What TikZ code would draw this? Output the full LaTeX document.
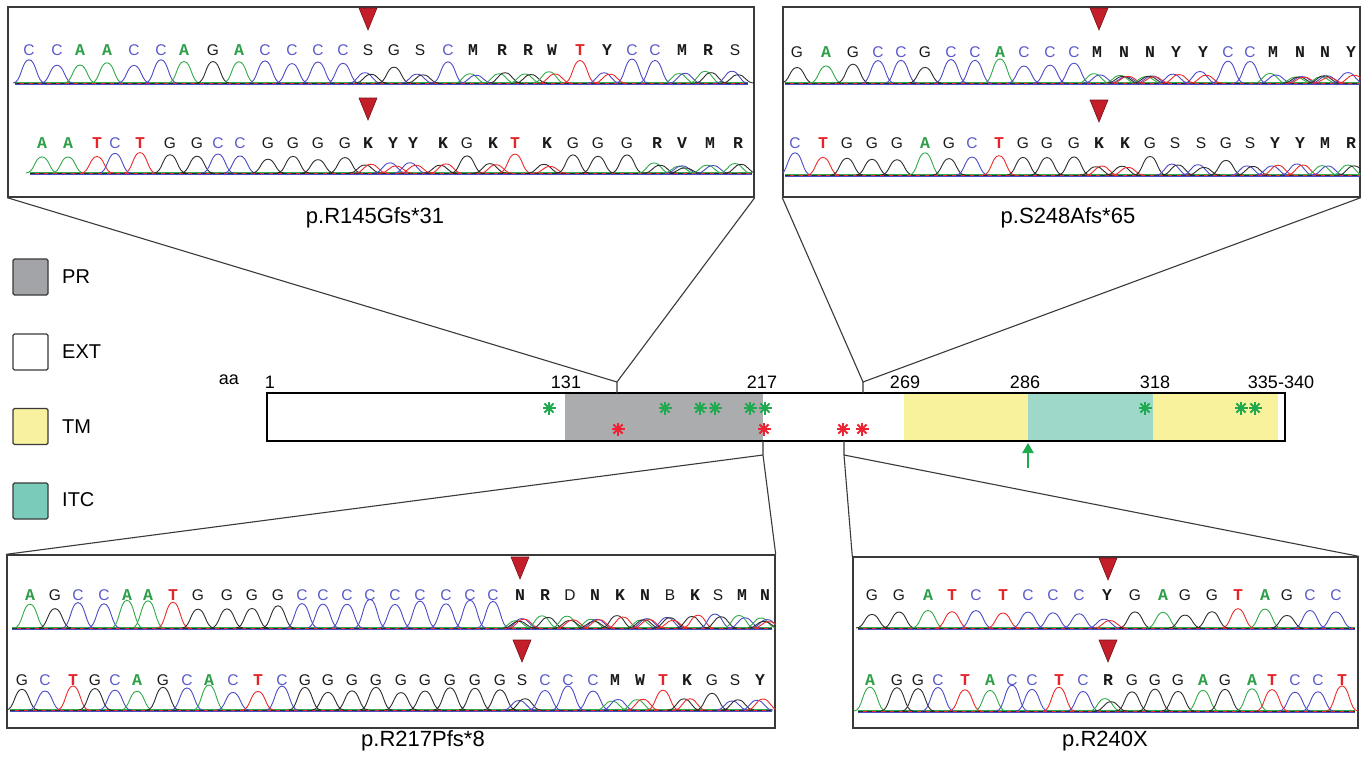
\documentclass[tikz,border=0pt]{standalone}
\usepackage{fontspec}
\setmainfont{Liberation Sans}
\newfontfamily\monof{Liberation Mono}
\usetikzlibrary{arrows.meta}
\definecolor{cA}{HTML}{33AA4A}
\definecolor{cC}{HTML}{4C4CC8}
\definecolor{cG}{HTML}{2E2E2E}
\definecolor{cT}{HTML}{EE2B2B}
\definecolor{lA}{HTML}{2E9E48}
\definecolor{lC}{HTML}{5A5ACB}
\definecolor{lG}{HTML}{1A1A1A}
\definecolor{lT}{HTML}{E5252A}
\definecolor{prgray}{HTML}{ABACAD}
\definecolor{tmyel}{HTML}{F8F29C}
\definecolor{itcteal}{HTML}{9ED8C9}
\definecolor{lgpr}{HTML}{A2A4A7}
\definecolor{lgtm}{HTML}{F7F1A0}
\definecolor{lgitc}{HTML}{7ACBB9}
\definecolor{stgreen}{HTML}{1FAA4F}
\definecolor{stred}{HTML}{EE2233}
\definecolor{trired}{HTML}{C41E2A}
\definecolor{edge}{HTML}{3A3A3A}

\tikzset{
  trace/.style={line width=0.9pt, line join=round},
  ltr/.style={inner sep=0pt, anchor=center},
  panel/.style={draw=edge, line width=1.4pt, inner sep=0pt, fill=white},
  conn/.style={draw=edge, line width=1.1pt},
  lab/.style={inner sep=0pt, font=\fontsize{22}{24}\selectfont},
  num/.style={inner sep=0pt, font=\fontsize{18}{20}\selectfont},
  lgbox/.style={draw=edge, line width=1.3pt, rounded corners=1.5pt, minimum width=35pt, minimum height=36pt, inner sep=0pt},
  lgtxt/.style={anchor=west, inner sep=0pt, font=\fontsize{20}{22}\selectfont},
}

\newcommand\lsans{\fontsize{15.5}{15.5}\selectfont}
\newcommand\lmono{\fontsize{16.5}{16.5}\selectfont\monof\bfseries}
\def\hs{20}
% peak: colour, x, base, relative height
\newcommand\pk[4]{%
  \pgfmathsetmacro\hr{#4*\hs*(0.8+0.35*rnd)}%
  \draw[trace,#1] ({#2-16},#3) .. controls ({#2-7.5},#3) and ({#2-7.5},{#3-\hr}) .. ({#2},{#3-\hr}) .. controls ({#2+7.5},{#3-\hr}) and ({#2+7.5},#3) .. ({#2+16},#3);}
\newcommand\putl[5]{\node[ltr,text=#3,font=#4] (n#1-#2) at (#1,#2) {#5};}
\newcommand\bzA[3]{\putl{#1}{#2}{lA}{\lmono}{A}\pk{cA}{#1}{#3}{1}}
\newcommand\bzC[3]{\putl{#1}{#2}{lC}{\lsans}{C}\pk{cC}{#1}{#3}{1}}
\newcommand\bzG[3]{\putl{#1}{#2}{lG}{\lsans}{G}\pk{cG}{#1}{#3}{0.9}}
\newcommand\bzT[3]{\putl{#1}{#2}{lT}{\lmono}{T}\pk{cT}{#1}{#3}{1}}
\newcommand\bzS[3]{\putl{#1}{#2}{lG}{\lsans}{S}\pk{cC}{#1-3}{#3}{0.5}\pk{cG}{#1+3}{#3}{0.45}}
\newcommand\bzK[3]{\putl{#1}{#2}{lG}{\lmono}{K}\pk{cG}{#1-3}{#3}{0.5}\pk{cT}{#1+3}{#3}{0.45}}
\newcommand\bzY[3]{\putl{#1}{#2}{lG}{\lmono}{Y}\pk{cC}{#1-3}{#3}{0.5}\pk{cT}{#1+3}{#3}{0.45}}
\newcommand\bzM[3]{\putl{#1}{#2}{lG}{\lmono}{M}\pk{cA}{#1-3}{#3}{0.5}\pk{cC}{#1+3}{#3}{0.45}}
\newcommand\bzR[3]{\putl{#1}{#2}{lG}{\lmono}{R}\pk{cA}{#1-3}{#3}{0.5}\pk{cG}{#1+3}{#3}{0.45}}
\newcommand\bzW[3]{\putl{#1}{#2}{lG}{\lmono}{W}\pk{cA}{#1-3}{#3}{0.5}\pk{cT}{#1+3}{#3}{0.45}}
\newcommand\bzN[3]{\putl{#1}{#2}{lG}{\lmono}{N}\pk{cA}{#1-4}{#3}{0.35}\pk{cC}{#1+2}{#3}{0.35}\pk{cG}{#1-1}{#3}{0.3}\pk{cT}{#1+4}{#3}{0.3}}
\newcommand\bzB[3]{\putl{#1}{#2}{lG}{\lsans}{B}\pk{cC}{#1-3}{#3}{0.4}\pk{cG}{#1}{#3}{0.35}\pk{cT}{#1+3}{#3}{0.35}}
\newcommand\bzD[3]{\putl{#1}{#2}{lG}{\lsans}{D}\pk{cA}{#1-3}{#3}{0.4}\pk{cG}{#1}{#3}{0.35}\pk{cT}{#1+3}{#3}{0.35}}
\newcommand\bzV[3]{\putl{#1}{#2}{lG}{\lmono}{V}\pk{cA}{#1-3}{#3}{0.4}\pk{cC}{#1}{#3}{0.35}\pk{cG}{#1+3}{#3}{0.35}}
% sequence row: list, letter y, baseline y, height scale
\newcommand\sq[4]{\def\hs{#4}\foreach \xx/\LL in {#1}{\csname bz\LL\endcsname{\xx}{#2}{#3}}}
% baselines: x1, x2, base
\newcommand\bl[3]{%
  \draw[trace,cT] (#1,#3) -- (#2,#3);
  \draw[trace,cA] (#1,{#3-0.8}) -- (#2,{#3-0.8});
  \draw[trace,cG,dash pattern=on 5pt off 4pt] (#1,{#3+0.4}) -- (#2,{#3+0.4});
  \draw[trace,cC] (#1,{#3+1}) -- (#2,{#3+1});}
\newcommand\tri[2]{\filldraw[fill=trired,draw=trired!60!black,line width=0.6pt] ({#1-9},#2) -- ({#1+9},#2) -- (#1,{#2+22}) -- cycle;}
\newcommand\astr[3]{\foreach \a in {0,45,90,135}{\draw[#1,line width=1.9pt] ({#2+6.5*cos(\a)},{#3+6.5*sin(\a)}) -- ({#2-6.5*cos(\a)},{#3-6.5*sin(\a)});}}

\begin{document}
\begin{tikzpicture}[x=1pt,y=-1pt]
\pgfmathsetseed{7}
\useasboundingbox (0,0) rectangle (1366,758);
\fill[white] (0,0) rectangle (1366,758);

% ---------- panels ----------
\node[panel, minimum width=746pt, minimum height=190pt] (p1) at (381,102) {};
\node[panel, minimum width=577pt, minimum height=190pt] (p2) at (1071.5,102) {};
\node[panel, minimum width=768pt, minimum height=173pt] (p3) at (391,641.5) {};
\node[panel, minimum width=505pt, minimum height=171pt] (p4) at (1105.5,642.5) {};

% ---------- panel 1 ----------
\begin{scope}
\clip (p1.south west) rectangle (p1.north east);
\bl{15}{748}{83}
\sq{29/C,57/C,80/A,107/A,134/C,161/C,184/A,213/G,239/A,265/C,292/C,318/C,343/C,368/S,394/G,420/S,448/C,473/M,502/R,528/R,552/W,580/T,607/Y,632/C,655/C,682/M,708/R,735/S}{50}{83}{21}
\bl{30}{752}{173}
\sq{42/A,68/A,97/T,115/C,140/T,170/G,197/G,218/C,240/C,268/G,293/G,318/G,345/G,368/K,393/Y,413/Y,443/K,467/G,493/K,515/T,547/K,573/G,598/G,627/G,657/R,682/V,710/M,738/R}{143}{173}{18}
\tri{368}{8}
\tri{368}{98}
\end{scope}

% ---------- panel 2 ----------
\begin{scope}
\clip (p2.south west) rectangle (p2.north east);
\bl{785}{1360}{83}
\sq{797/G,826/A,853/G,878/C,901/C,925/G,951/C,975/C,1000/A,1024/C,1050/C,1074/C,1097/M,1124/N,1150/N,1176/Y,1203/Y,1228/C,1250/C,1273/M,1300/N,1325/N,1351/Y}{52}{83}{21}
\bl{785}{1360}{175}
\sq{795/C,823/T,847/G,872/G,897/G,925/A,949/G,972/C,999/T,1023/G,1047/G,1074/G,1099/K,1125/K,1150/G,1175/S,1201/S,1226/G,1250/S,1275/Y,1300/Y,1325/M,1351/R}{143}{175}{20}
\tri{1099}{8}
\tri{1099}{100}
\end{scope}

% ---------- panel 3 ----------
\begin{scope}
\clip (p3.south west) rectangle (p3.north east);
\bl{12}{772}{628}
\sq{30/A,55/G,78/C,104/C,127/A,148/A,173/T,198/G,227/G,252/G,278/G,302/C,323/C,347/C,370/C,395/C,420/C,446/C,470/C,493/C,520/N,545/R,570/D,595/N,620/K,645/N,670/B,695/K,718/S,742/M,765/N}{595}{628}{26}
\bl{10}{772}{710}
\sq{22/G,45/C,73/T,95/G,115/C,137/A,163/G,187/C,209/A,233/C,258/T,282/C,305/G,328/G,352/G,376/G,401/G,425/G,450/G,475/G,500/G,522/S,545/C,568/C,593/C,615/M,640/W,663/T,687/K,712/G,735/S,760/Y}{680}{710}{22}
\tri{520}{557}
\tri{522}{640}
\end{scope}

% ---------- panel 4 ----------
\begin{scope}
\clip (p4.south west) rectangle (p4.north east);
\bl{858}{1355}{628}
\sq{872/G,899/G,928/A,952/T,976/C,1003/T,1028/C,1053/C,1079/C,1107/Y,1135/G,1163/A,1185/G,1212/G,1238/T,1265/A,1287/G,1310/C,1336/C}{595}{628}{17}
\bl{858}{1355}{711}
\sq{870/A,897/G,918/G,938/C,965/T,990/A,1012/C,1032/C,1059/T,1083/C,1108/R,1132/G,1155/G,1178/G,1203/A,1225/G,1252/A,1272/T,1295/C,1318/C,1342/T}{680}{711}{23}
\tri{1108}{558}
\tri{1108}{640}
\end{scope}

% ---------- labels ----------
\node[lab] (l1) at (375,218) {p.R145Gfs*31};
\node[lab] (l2) at (1068,218) {p.S248Afs*65};
\node[lab] (l3) at (423,741) {p.R217Pfs*8};
\node[lab] (l4) at (1105,741) {p.R240X};

% ---------- legend ----------
\node[lgbox, fill=lgpr] (kPR) at (30.5,277) {};
\node[lgtxt] (tPR) at (62,277) {PR};
\node[lgbox, fill=white] (kEXT) at (30.5,352) {};
\node[lgtxt] (tEXT) at (62,352) {EXT};
\node[lgbox, fill=lgtm] (kTM) at (30.5,426.5) {};
\node[lgtxt] (tTM) at (62,427) {TM};
\node[lgbox, fill=lgitc] (kITC) at (30.5,501) {};
\node[lgtxt] (tITC) at (62,500) {ITC};

% ---------- protein bar ----------
\fill[prgray] (565,393) rectangle (763,441);
\fill[tmyel] (904,393) rectangle (1028,441);
\fill[itcteal] (1028,393) rectangle (1153,441);
\fill[tmyel] (1153,393) rectangle (1278,441);
\node[draw=black, line width=2.4pt, minimum width=1018pt, minimum height=48pt, inner sep=0pt] (bar) at (776,417) {};

\node[num] (aa) at (229,380) {aa};
\node[num] (m1) at (270,382) {1};
\node[num] (m131) at (566,382) {131};
\node[num] (m217) at (762,382) {217};
\node[num] (m269) at (905,382) {269};
\node[num] (m286) at (1025,382) {286};
\node[num] (m318) at (1155,382) {318};
\node[num] (m335) at (1281,382) {335-340};

% asterisks
\foreach \sx in {549,665,700,715,750,765,1145,1241,1255}{\astr{stgreen}{\sx}{408}}
\foreach \sx in {618,764,843,862}{\astr{stred}{\sx}{429}}

% green arrow
\coordinate (ga) at (1028,468);
\coordinate (gb) at (1028,443);
\draw[stgreen, line width=2.8pt, -{Triangle[length=10pt,width=11pt]}] (ga) -- (gb);

% ---------- connectors ----------
\coordinate (s1) at (617,382);
\coordinate (s1b) at (617,393);
\coordinate (s2) at (863,382);
\coordinate (s2b) at (863,393);
\coordinate (s3) at (763,455);
\coordinate (s3b) at (763,441);
\coordinate (s4) at (844,455);
\coordinate (s4b) at (844,441);
\draw[conn] (s1b) -- (s1) -- (p1.south east);
\draw[conn] (s1) -- (p1.south west);
\draw[conn] (s2b) -- (s2) -- (p2.south west);
\draw[conn] (s2) -- (p2.south east);
\draw[conn] (s3b) -- (s3) -- (p3.north east);
\draw[conn] (s3) -- (p3.north west);
\draw[conn] (s4b) -- (s4) -- (p4.north west);
\draw[conn] (s4) -- (p4.north east);
\end{tikzpicture}
\end{document}
